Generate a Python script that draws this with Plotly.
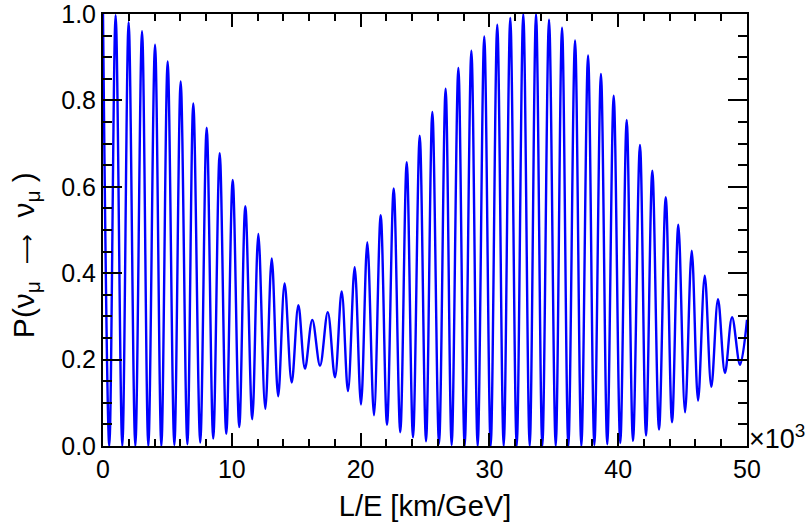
import plotly.graph_objects as go

# L/E values in units of 10^3 km/GeV, read at each local maximum / minimum of the curve
le_k = [0.00, 0.49, 0.98, 1.50, 1.99, 2.51, 3.03, 3.52, 4.04, 4.53, 5.02, 5.54, 6.03, 6.55,
        7.01, 7.55, 8.05, 8.56, 9.06, 9.57, 10.07, 10.58, 11.05, 11.59, 12.06, 12.60, 13.10,
        13.60, 14.10, 14.65, 15.17, 15.68, 16.25, 16.85, 17.45, 18.01, 18.53, 19.02, 19.54,
        20.03, 20.52, 21.04, 21.56, 22.05, 22.57, 23.08, 23.58, 24.07, 24.59, 25.08, 25.57,
        26.09, 26.60, 27.07, 27.59, 28.08, 28.60, 29.09, 29.60, 30.10, 30.61, 31.11, 31.62,
        32.12, 32.63, 33.13, 33.62, 34.11, 34.63, 35.15, 35.64, 36.13, 36.65, 37.14, 37.66,
        38.15, 38.66, 39.15, 39.65, 40.16, 40.66, 41.15, 41.69, 42.16, 42.65, 43.17, 43.69,
        44.18, 44.67, 45.19, 45.71, 46.20, 46.72, 47.23, 47.75, 48.29, 48.84, 49.46, 50.00]

prob = [1.000, 0.000, 0.997, 0.000, 0.981, 0.000, 0.960, 0.000, 0.929, 0.000, 0.890, 0.002,
        0.844, 0.004, 0.793, 0.008, 0.737, 0.017, 0.678, 0.028, 0.616, 0.044, 0.555, 0.062,
        0.491, 0.086, 0.434, 0.115, 0.376, 0.147, 0.326, 0.179, 0.292, 0.186, 0.310, 0.159,
        0.358, 0.127, 0.414, 0.096, 0.472, 0.071, 0.534, 0.049, 0.596, 0.032, 0.657, 0.020,
        0.718, 0.011, 0.773, 0.005, 0.827, 0.002, 0.875, 0.000, 0.915, 0.000, 0.948, 0.000,
        0.975, 0.000, 0.991, 0.000, 1.000, 0.000, 1.000, 0.000, 0.987, 0.000, 0.968, 0.000,
        0.939, 0.000, 0.904, 0.002, 0.861, 0.004, 0.811, 0.007, 0.755, 0.012, 0.697, 0.024,
        0.637, 0.038, 0.576, 0.055, 0.512, 0.078, 0.452, 0.105, 0.394, 0.137, 0.340, 0.169,
        0.298, 0.188, 0.292]

x_ticks = [0, 10, 20, 30, 40, 50]
y_ticks = [0.0, 0.2, 0.4, 0.6, 0.8, 1.0]

FONT = "Liberation Sans, Arial, sans-serif"
NB = "\u00a0"

fig = go.Figure()
fig.add_trace(go.Scatter(
    x=le_k, y=prob, mode="lines",
    line=dict(color="#0000ff", width=2.4, shape="spline", smoothing=1.0),
    showlegend=False, hoverinfo="skip"))

axis_common = dict(
    showgrid=False, zeroline=False, showline=True, linecolor="black", linewidth=2,
    mirror="ticks", ticks="inside", tickcolor="black", tickwidth=1.5, automargin=False,
    ticklabeloverflow="allow",
    tickfont=dict(family=FONT, size=25, color="black"),
)

fig.update_xaxes(
    **axis_common, range=[0, 50], tickvals=x_ticks, ticklen=13,
    ticktext=[str(v) for v in x_ticks],
    minor=dict(dtick=2, ticks="inside", ticklen=7, tickcolor="black", tickwidth=1.5),
    title=dict(text="L/E [km/GeV]", font=dict(family=FONT, size=29, color="black"), standoff=14),
)
fig.update_yaxes(
    **axis_common, range=[0, 1.0], tickvals=y_ticks, ticklen=19,
    ticktext=[f"{v:.1f}" for v in y_ticks],
    minor=dict(dtick=0.05, ticks="inside", ticklen=9, tickcolor="black", tickwidth=1.5),
)

y_title = ("P(ν<sub>μ</sub>" + NB * 2
           + "<span style='font-family:DejaVu Sans;font-size:21px'>⟶</span>"
           + NB * 2 + "ν<sub>μ</sub>" + NB + ")")
fig.add_annotation(
    text=y_title, xref="paper", yref="paper", x=-0.121, y=0.442, textangle=-90,
    xanchor="center", yanchor="middle", showarrow=False,
    font=dict(family=FONT, size=30, color="black"))

fig.add_annotation(
    text="×10<sup>3</sup>", xref="paper", yref="paper", x=1.0, y=0.0,
    xanchor="left", yanchor="bottom", xshift=0, yshift=-10, showarrow=False,
    font=dict(family=FONT, size=27, color="black"))

fig.update_layout(
    width=805, height=526,
    margin=dict(l=103, r=58, t=14, b=80),
    paper_bgcolor="white", plot_bgcolor="white",
)

fig.write_html("out.html", config={"displayModeBar": False},
               post_script="document.body.style.margin='0';")
